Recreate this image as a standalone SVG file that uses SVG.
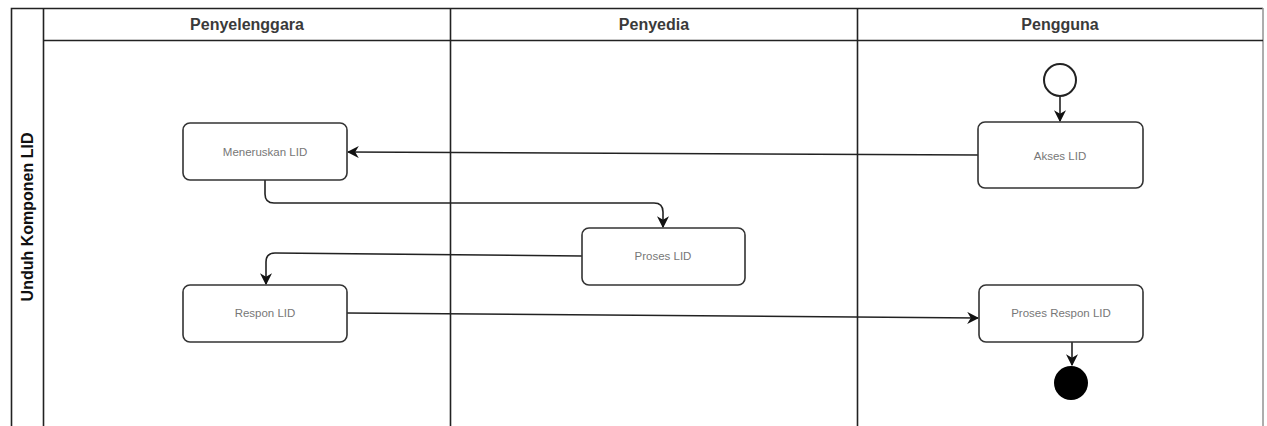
<svg xmlns="http://www.w3.org/2000/svg" width="1267" height="426" viewBox="0 0 1267 426">
<defs>
<style>
.lane{fill:none;stroke:#222;stroke-width:1.6}
.hdr{font-family:"Liberation Sans",Arial,sans-serif;font-weight:bold;font-size:16px;fill:#3a3a3a;text-anchor:middle}
.node rect{fill:#fff;stroke:#333;stroke-width:1.6}
.node text{font-family:"Liberation Sans",Arial,sans-serif;font-size:11.5px;fill:#777;text-anchor:middle;dominant-baseline:central}
.edge{fill:none;stroke:#222;stroke-width:1.6}
</style>
<marker id="arr" viewBox="0 0 10 10" refX="9" refY="5" markerWidth="12" markerHeight="12" markerUnits="userSpaceOnUse" orient="auto">
<path d="M0,0 L10,5 L0,10 L3,5 z" fill="#111"/>
</marker>
</defs>
<rect width="1267" height="426" fill="#fff"/>
<g id="pool">
<path class="lane" d="M11.5,430 V8.5 H1263"/>
<line x1="1263" y1="8" x2="1263" y2="430" stroke="#999" stroke-width="1.6"/>
<line class="lane" x1="43.5" y1="8" x2="43.5" y2="430"/>
<line class="lane" x1="43" y1="40.5" x2="1263" y2="40.5"/>
<line class="lane" x1="450.5" y1="8" x2="450.5" y2="430"/>
<line class="lane" x1="857.5" y1="8" x2="857.5" y2="430"/>
<text class="hdr" x="247" y="30">Penyelenggara</text>
<text class="hdr" x="654" y="30">Penyedia</text>
<text class="hdr" x="1060" y="30">Pengguna</text>
<text class="hdr" transform="translate(33,217) rotate(-90)" font-size="17" style="fill:#111">Unduh Komponen LID</text>
</g>
<g id="connectors">
<line class="edge" x1="1060" y1="97" x2="1060" y2="121" marker-end="url(#arr)"/>
<line class="edge" x1="978" y1="155" x2="348" y2="152" marker-end="url(#arr)"/>
<path class="edge" d="M265,180 V194 Q265,203 274,203 H654 Q663,203 663,212 V227" marker-end="url(#arr)"/>
<path class="edge" d="M582,256 L275,253 Q266,253 266,262 V284" marker-end="url(#arr)"/>
<line class="edge" x1="347" y1="313" x2="978" y2="318" marker-end="url(#arr)"/>
<line class="edge" x1="1072" y1="342" x2="1072" y2="365" marker-end="url(#arr)"/>
</g>
<g id="start"><circle cx="1060" cy="80" r="16" fill="#fff" stroke="#222" stroke-width="2"/></g>
<g id="end"><circle cx="1071" cy="383" r="17" fill="#000"/></g>
<g id="n-meneruskan" class="node"><rect x="183" y="123" width="164" height="57" rx="7"/><text x="265" y="152">Meneruskan LID</text></g>
<g id="n-respon" class="node"><rect x="183" y="285" width="164" height="57" rx="7"/><text x="265" y="313">Respon LID</text></g>
<g id="n-proses" class="node"><rect x="582" y="228" width="163" height="57" rx="7"/><text x="663" y="256">Proses LID</text></g>
<g id="n-akses" class="node"><rect x="978" y="122" width="165" height="66" rx="7"/><text x="1060" y="156">Akses LID</text></g>
<g id="n-prosesrespon" class="node"><rect x="979" y="285" width="164" height="57" rx="7"/><text x="1061" y="313">Proses Respon LID</text></g>
</svg>
